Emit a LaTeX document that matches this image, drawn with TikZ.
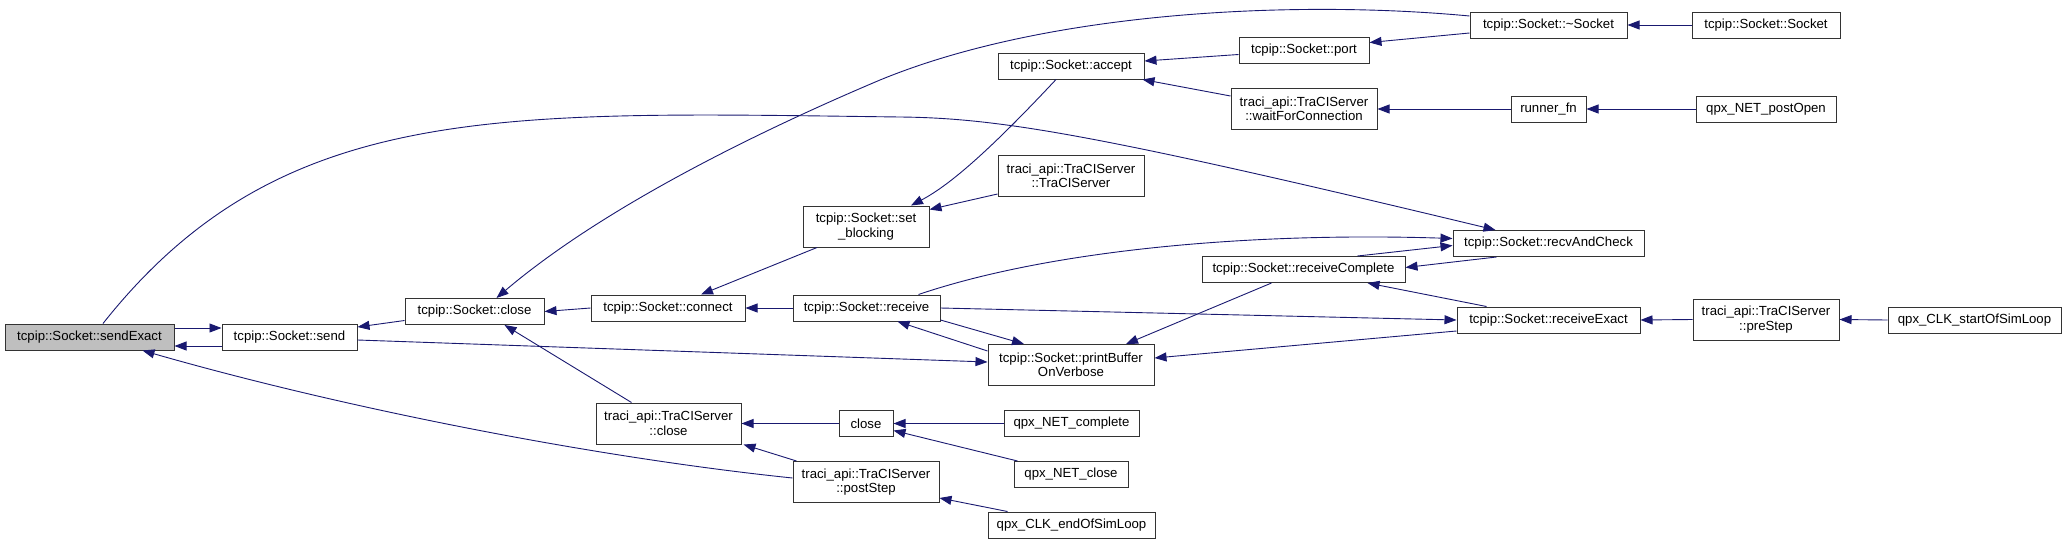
\documentclass[tikz,border=0pt]{standalone}
\usepackage{fontspec}
\setmainfont{Liberation Sans}
\usetikzlibrary{arrows.meta}
\definecolor{edgeblue}{RGB}{25,25,112}
\definecolor{hilite}{RGB}{191,191,191}

\begin{document}
\begin{tikzpicture}[x=1pt, y=-1pt,
    fn/.style   = {rectangle, draw=black!80, fill=white, line width=1pt, inner sep=0pt,
                   minimum height=26pt, align=center,
                   font=\fontsize{13.2}{14.5}\selectfont},
    fntwo/.style= {fn, minimum height=41pt},
    cur/.style  = {fn, fill=hilite},
    arr/.style  = {-{Triangle[length=12pt,width=9pt]}, line width=0.9pt, draw=edgeblue}
  ]
    \useasboundingbox (0,0) rectangle (2065,544);

    \node[cur,   minimum width=169pt] (sendexact)    at (89.5,337)    {tcpip::Socket::sendExact};
    \node[fn,    minimum width=135pt] (send)         at (289.5,337)   {tcpip::Socket::send};
    \node[fn,    minimum width=139pt] (sclose)       at (474.5,311.5) {tcpip::Socket::close};
    \node[fn,    minimum width=154pt] (connect)      at (668,308)     {tcpip::Socket::connect};
    \node[fntwo, minimum width=145pt] (tclose)       at (668.5,423.5) {traci\_api::TraCIServer\\::close};
    \node[fntwo, minimum width=126pt] (setblk)       at (866,226.5)   {tcpip::Socket::set\\\_blocking};
    \node[fn,    minimum width=147pt] (receive)      at (866.5,308)   {tcpip::Socket::receive};
    \node[fn,    minimum width=54pt]  (close)        at (866,423.5)   {close};
    \node[fntwo, minimum width=146pt] (poststep)     at (866,482)     {traci\_api::TraCIServer\\::postStep};
    \node[fn,    minimum width=146pt] (accept)       at (1071,66)     {tcpip::Socket::accept};
    \node[fntwo, minimum width=146pt] (tserver)      at (1071,176)    {traci\_api::TraCIServer\\::TraCIServer};
    \node[fntwo, minimum width=166pt] (printbuf)     at (1071,365)    {tcpip::Socket::printBuffer\\OnVerbose};
    \node[fn,    minimum width=135pt] (netcomplete)  at (1071.5,423.5){qpx\_NET\_complete};
    \node[fn,    minimum width=114pt] (netclose)     at (1071,474.5)  {qpx\_NET\_close};
    \node[fn,    minimum width=167pt] (endsim)       at (1071.5,525)  {qpx\_CLK\_endOfSimLoop};
    \node[fn,    minimum width=130pt] (port)         at (1304,50.5)   {tcpip::Socket::port};
    \node[fntwo, minimum width=146pt] (waitconn)     at (1304,109)    {traci\_api::TraCIServer\\::waitForConnection};
    \node[fn,    minimum width=203pt] (recvcomplete) at (1303.5,269.5){tcpip::Socket::receiveComplete};
    \node[fn,    minimum width=157pt] (dtor)         at (1548.5,25)   {tcpip::Socket::\textasciitilde Socket};
    \node[fn,    minimum width=75pt]  (runner)       at (1548.5,109)  {runner\_fn};
    \node[fn,    minimum width=191pt] (recvcheck)    at (1548.5,243.5){tcpip::Socket::recvAndCheck};
    \node[fn,    minimum width=183pt] (recvexact)    at (1548.5,320)  {tcpip::Socket::receiveExact};
    \node[fn,    minimum width=148pt] (ctor)         at (1766,25)     {tcpip::Socket::Socket};
    \node[fn,    minimum width=140pt] (postopen)     at (1766,109)    {qpx\_NET\_postOpen};
    \node[fntwo, minimum width=146pt] (prestep)      at (1766,319.5)  {traci\_api::TraCIServer\\::preStep};
    \node[fn,    minimum width=173pt] (startsim)     at (1974.5,320)  {qpx\_CLK\_startOfSimLoop};

    \draw[arr] ([yshift=-9pt]send.west) -- ([yshift=-9pt]sendexact.east);
    \draw[arr] ([yshift=9pt]sendexact.east) -- ([yshift=9pt]send.west);
    \draw[arr] ([yshift=-9pt]sclose.west) -- ([yshift=10pt]send.east);
    \draw[arr] ([yshift=-3pt]send.east) -- ([yshift=3pt]printbuf.west);
    \draw[arr] ([xshift=13.5pt]sendexact.north) .. controls (280,100) and (500,112) .. (900,117)
               .. controls (1000,118) and (1100,135) .. ([xshift=-53pt]recvcheck.north);
    \draw[arr] ([yshift=9pt]dtor.west) .. controls (1300,0) and (1050,10) .. (880,80)
               .. controls (750,135) and (600,210) .. ([xshift=22pt]sclose.north);
    \draw[arr] (connect.west) -- (sclose.east);
    \draw[arr] ([xshift=-37pt]tclose.north) -- ([xshift=30pt]sclose.south);
    \draw[arr] ([xshift=-49pt]setblk.south) -- ([xshift=33pt]connect.north);
    \draw[arr] (receive.west) -- (connect.east);
    \draw[arr] (close.west) -- (tclose.east);
    \draw[arr] ([xshift=4pt]poststep.north west) -- ([xshift=2pt]tclose.south east);
    \draw[arr] ([yshift=4pt]poststep.west) .. controls (600,458) and (350,410) .. ([xshift=53pt]sendexact.south);
    \draw[arr] ([xshift=-15pt]accept.south) .. controls (990,150) and (950,185) .. ([xshift=45pt]setblk.north);
    \draw[arr] ([yshift=-18pt]tserver.west) -- ([yshift=17pt]setblk.east);
    \draw[arr] ([yshift=-4pt]port.west) -- ([yshift=5pt]accept.east);
    \draw[arr] ([yshift=13pt]waitconn.west) -- ([xshift=-2pt]accept.south east);
    \draw[arr] ([yshift=-8pt]dtor.west) -- ([yshift=8pt]port.east);
    \draw[arr] (runner.west) -- (waitconn.east);
    \draw[arr] (ctor.west) -- (dtor.east);
    \draw[arr] (postopen.west) -- (runner.east);
    \draw[arr] ([xshift=52pt]receive.north) .. controls (1050,250) and (1250,232) .. ([yshift=5pt]recvcheck.west);
    \draw[arr] ([xshift=54pt]recvcomplete.north) -- ([yshift=-2pt]recvcheck.west);
    \draw[arr] ([xshift=-52pt]recvcheck.south) -- ([yshift=2pt]recvcomplete.east);
    \draw[arr] ([xshift=-62pt]recvexact.north) -- ([xshift=64pt]recvcomplete.south);
    \draw[arr] (receive.east) -- (recvexact.west);
    \draw[arr] ([yshift=-12pt]receive.east) -- ([xshift=-47pt]printbuf.north);
    \draw[arr] ([yshift=14pt]printbuf.west) -- ([xshift=31pt]receive.south);
    \draw[arr] ([xshift=-32pt]recvcomplete.south) -- ([xshift=55pt]printbuf.north);
    \draw[arr] ([yshift=-11pt]recvexact.west) -- ([yshift=7pt]printbuf.east);
    \draw[arr] (prestep.west) -- (recvexact.east);
    \draw[arr] (startsim.west) -- (prestep.east);
    \draw[arr] (netcomplete.west) -- (close.east);
    \draw[arr] ([xshift=4pt]netclose.north west) -- ([yshift=-7pt]close.east);
    \draw[arr] ([xshift=20pt]endsim.north west) -- ([yshift=-16pt]poststep.east);
  \end{tikzpicture}
\end{document}
